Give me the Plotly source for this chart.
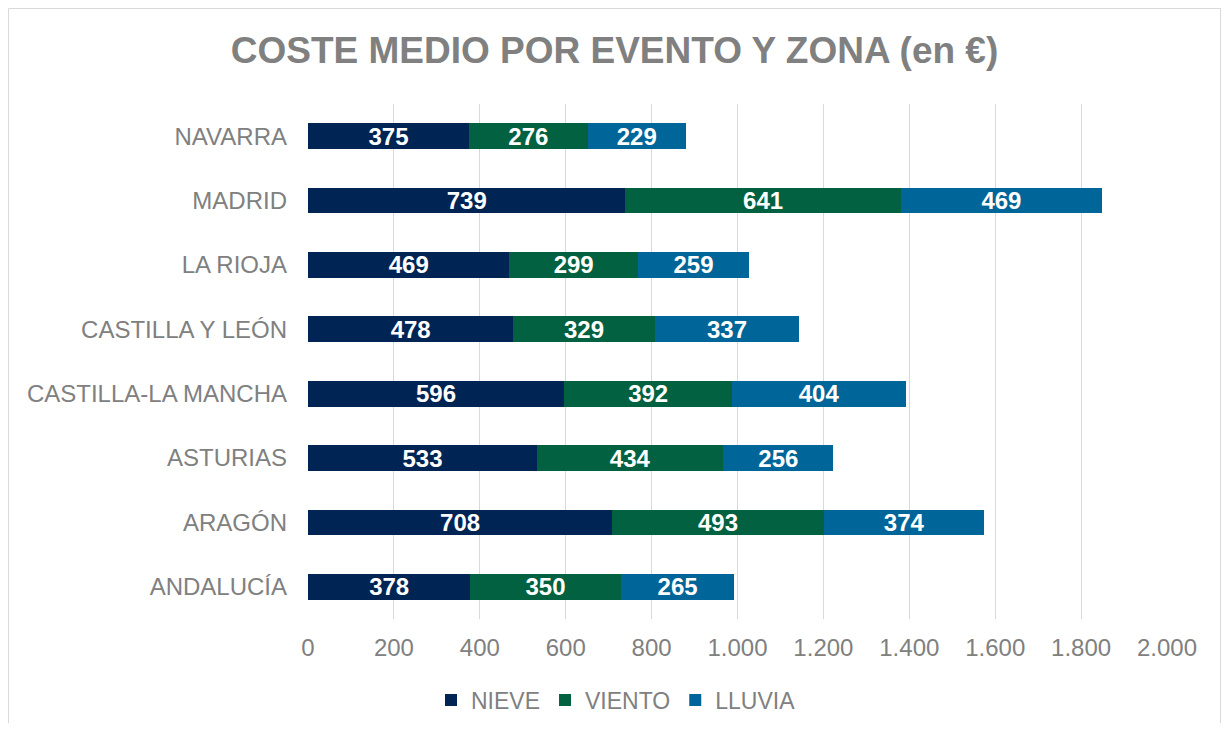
import plotly.graph_objects as go

regions = ["ANDALUCÍA", "ARAGÓN", "ASTURIAS", "CASTILLA-LA MANCHA",
           "CASTILLA Y LEÓN", "LA RIOJA", "MADRID", "NAVARRA"]
nieve = [378, 708, 533, 596, 478, 469, 739, 375]
viento = [350, 493, 434, 392, 329, 299, 641, 276]
lluvia = [265, 374, 256, 404, 337, 259, 469, 229]
x_ticks = [0, 200, 400, 600, 800, 1000, 1200, 1400, 1600, 1800, 2000]

series = [("NIEVE", nieve, "#002454"), ("VIENTO", viento, "#026140"),
          ("LLUVIA", lluvia, "#006598")]

FONT = "Liberation Sans, Arial, sans-serif"
fig = go.Figure()
for name, vals, col in series:
    fig.add_trace(go.Bar(
        y=regions, x=vals, name=name, orientation="h",
        marker=dict(color=col, line=dict(width=0)),
        text=vals, texttemplate="<b>%{x}</b>", textposition="inside",
        insidetextanchor="middle", constraintext="none",
        textfont=dict(color="white", size=24, family=FONT),
        hoverinfo="x+name",
    ))

# page is offset by the 8px body margin
W, H = 1213, 715
L, R, T, B = 300, 54, 96, 104
pw, ph = W - L - R, H - T - B

def px(x):
    return (x - L) / pw

def py(y):
    return (H - B - y) / ph

border = dict(color="#d9d9d9", width=1)
shapes = [
    dict(type="line", xref="paper", yref="paper", x0=px(0.5), x1=px(0.5),
         y0=py(H + 20), y1=py(0.5), line=border, layer="below"),
    dict(type="line", xref="paper", yref="paper", x0=px(W - 0.5), x1=px(W - 0.5),
         y0=py(H + 20), y1=py(0.5), line=border, layer="below"),
    dict(type="line", xref="paper", yref="paper", x0=px(0.5), x1=px(W - 0.5),
         y0=py(0.5), y1=py(0.5), line=border, layer="below"),
]

fig.update_layout(
    width=W, height=H, barmode="stack", bargap=0.6,
    separators=",.",
    paper_bgcolor="white", plot_bgcolor="white",
    margin=dict(l=L, r=R, t=T, b=B, autoexpand=False),
    font=dict(family=FONT, color="#808080", size=24),
    title=dict(text="<b>COSTE MEDIO POR EVENTO Y ZONA (en €)</b>",
               x=0.5, xref="container", xanchor="center",
               y=1 - 42 / H, yref="container", yanchor="middle",
               font=dict(size=37, color="#808080", family=FONT)),
    legend=dict(orientation="h", x=608 / W, xref="container", xanchor="center",
                y=1 - 692 / H, yref="container", yanchor="middle",
                font=dict(size=23, color="#808080"), traceorder="normal",
                itemwidth=30, tracegroupgap=0),
    xaxis=dict(range=[0, 2000], tickvals=x_ticks, tickformat=",",
               showgrid=True, gridcolor="#d9d9d9", gridwidth=1,
               zeroline=False, showline=False, ticks="",
               ticklabelstandoff=12, tickfont=dict(size=24, color="#808080")),
    yaxis=dict(showgrid=False, zeroline=False, showline=False, ticks="",
               ticklabelstandoff=20, tickfont=dict(size=24, color="#808080")),
    shapes=shapes,
)
fig.update_xaxes(layer="below traces")
fig.write_html("out.html")
